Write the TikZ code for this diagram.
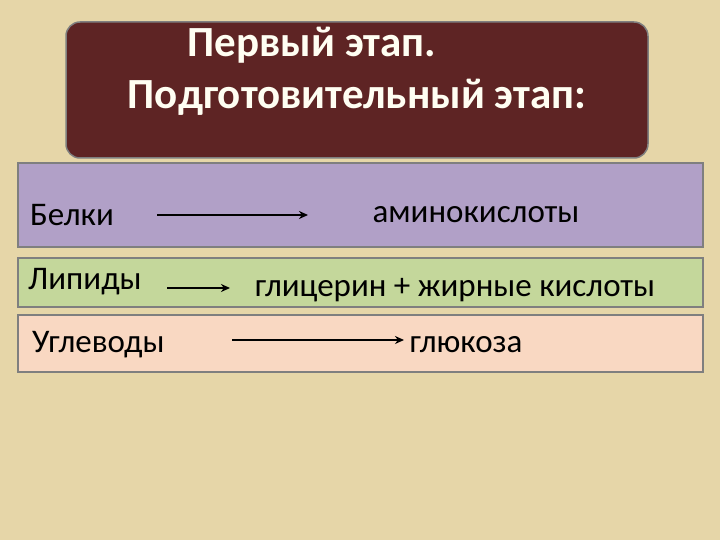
\documentclass[tikz,border=0pt]{standalone}
\usepackage{fontspec}
\usetikzlibrary{arrows.meta}
\setmainfont{Carlito}
\definecolor{bg}{HTML}{E6D6A8}
\definecolor{brown}{HTML}{5E2424}
\definecolor{purp}{HTML}{B1A0C7}
\definecolor{grn}{HTML}{C4D79B}
\definecolor{peach}{HTML}{F9D8C2}
\definecolor{bord}{HTML}{7F7F7F}
\begin{document}
\begin{tikzpicture}[x=1pt,y=-1pt,
  row/.style={draw=bord,line width=1.5pt},
  lbl/.style={font=\fontsize{33}{36}\selectfont,text=black,inner sep=0pt},
  arr/.style={-{Stealth[length=9pt,width=8pt]},line width=2.2pt}]
\fill[bg] (0,0) rectangle (720,540);
\useasboundingbox (0,0) rectangle (720,540);
\draw[row,fill=brown,rounded corners=14pt] (66,22) rectangle (648,158);
\node[font=\bfseries\fontsize{43}{46}\selectfont,text=white!95!yellow] (t1) at (312,45) {Первый этап.};
\node[font=\bfseries\fontsize{43}{46}\selectfont,text=white!95!yellow] (t2) at (357,97) {Подготовительный этап:};
\draw[row,fill=purp] (18,163) rectangle (703,247);
\draw[row,fill=grn] (18,258) rectangle (703,307);
\draw[row,fill=peach] (18,315) rectangle (703,372);
\node[lbl,anchor=west] (b) at (30,215) {Белки};
\node[lbl] (bb) at (476,215) {аминокислоты};
\node[lbl,anchor=west] (l) at (28,282) {Липиды};
\node[lbl] (ll) at (455,290) {глицерин + жирные кислоты};
\node[lbl,anchor=west] (u) at (32,345) {Углеводы};
\node[lbl] (uu) at (466,345) {глюкоза};
\coordinate (a1) at (157,215); \coordinate (a2) at (308,215);
\coordinate (c1) at (167,288); \coordinate (c2) at (230,288);
\coordinate (d1) at (232,340); \coordinate (d2) at (404,340);
\draw[arr] (a1) -- (a2);
\draw[arr] (c1) -- (c2);
\draw[arr] (d1) -- (d2);
\end{tikzpicture}
\end{document}
